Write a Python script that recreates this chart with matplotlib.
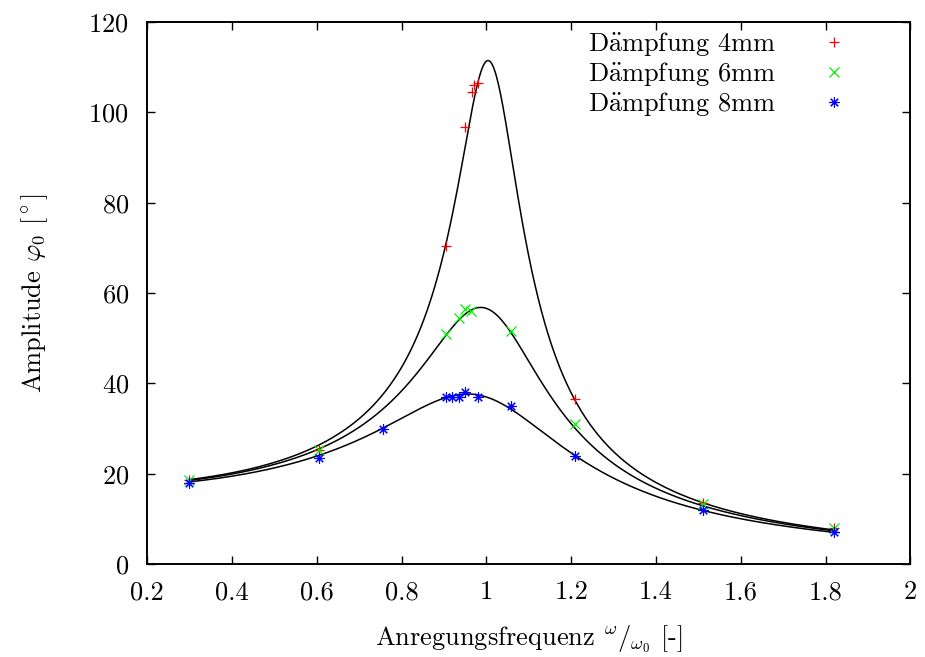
import numpy as np
import matplotlib
matplotlib.use("Agg")
import matplotlib.pyplot as plt

plt.rcParams['font.family'] = ['cmr10', 'DejaVu Serif']
plt.rcParams['mathtext.fontset'] = 'cm'
plt.rcParams['axes.formatter.use_mathtext'] = True

# measured data
x_4mm = [0.30, 0.605, 0.905, 0.950, 0.967, 0.972, 0.981, 1.208, 1.51, 1.82]
y_4mm = [18.7, 25.3, 70.5, 96.8, 104.4, 106.0, 106.6, 36.5, 13.5, 8.0]

x_6mm = [0.30, 0.605, 0.905, 0.935, 0.950, 0.963, 1.057, 1.208, 1.51, 1.82]
y_6mm = [18.6, 25.3, 51.0, 54.4, 56.5, 56.0, 51.6, 31.0, 13.2, 8.0]

x_8mm = [0.30, 0.605, 0.757, 0.905, 0.920, 0.935, 0.950, 0.980, 1.057, 1.208, 1.51, 1.82]
y_8mm = [18.0, 23.5, 30.0, 37.0, 37.0, 37.0, 38.0, 37.0, 35.0, 24.0, 12.0, 7.0]

# fit parameters (K, w0, gamma) of A(x) = K / sqrt((w0^2 - x^2)^2 + (gamma x)^2)
fit_4mm = (17.4, 1.01, 0.155)
fit_6mm = (17.3, 1.01, 0.305)
fit_8mm = (17.1, 1.01, 0.462)

labels = [r'D$\ddot{\mathrm{a}}$mpfung 4mm', r'D$\ddot{\mathrm{a}}$mpfung 6mm', r'D$\ddot{\mathrm{a}}$mpfung 8mm']
xticks = [0.2, 0.4, 0.6, 0.8, 1.0, 1.2, 1.4, 1.6, 1.8, 2.0]
xticklabels = ['0.2', '0.4', '0.6', '0.8', '1', '1.2', '1.4', '1.6', '1.8', '2']
yticks = [0, 20, 40, 60, 80, 100, 120]


def model(x, p):
    K, w0, g = p
    return K / np.sqrt((w0**2 - x**2)**2 + (g * x)**2)


fig = plt.figure(figsize=(9.25, 6.57), dpi=100)
ax = fig.add_axes([147 / 925, 93 / 657, 763.5 / 925, 542 / 657])

xs = np.linspace(0.3, 1.82, 600)
for p in (fit_4mm, fit_6mm, fit_8mm):
    ax.plot(xs, model(xs, p), color='black', lw=1.1)

ax.plot(x_4mm, y_4mm, ls='none', marker='+', ms=7.5, mew=0.9, color='#ff0000', label=labels[0])
ax.plot(x_6mm, y_6mm, ls='none', marker='x', ms=6.5, mew=0.9, color='#00ee00', label=labels[1])
ax.plot(x_8mm, y_8mm, ls='none', marker=(8, 2, 0), ms=7.5, mew=0.8, color='#0000ff', label=labels[2])

ax.set_xlim(0.2, 2.0)
ax.set_ylim(0, 120)
ax.set_xticks(xticks)
ax.set_xticklabels(xticklabels)
ax.set_yticks(yticks)
ax.tick_params(direction='in', top=True, right=True, length=6, width=1, labelsize=19)
ax.tick_params(axis='x', pad=12)
ax.tick_params(axis='y', pad=13)
for s in ax.spines.values():
    s.set_linewidth(1.4)

ax.set_xlabel(r'Anregungsfrequenz $^{\omega}/_{\omega_0}$ [-]', fontsize=19, labelpad=14)
ax.set_ylabel(r'Amplitude $\varphi_0$ [$^\circ$]', fontsize=19, labelpad=28)

ax.legend(loc='upper right', frameon=False, markerfirst=False, fontsize=19,
          handlelength=1.0, handletextpad=1.7, labelspacing=0.07,
          borderpad=0.4, borderaxespad=0.0, bbox_to_anchor=((858 - 147) / 763.5, 1.004))

fig.savefig('out.png', dpi=100)
